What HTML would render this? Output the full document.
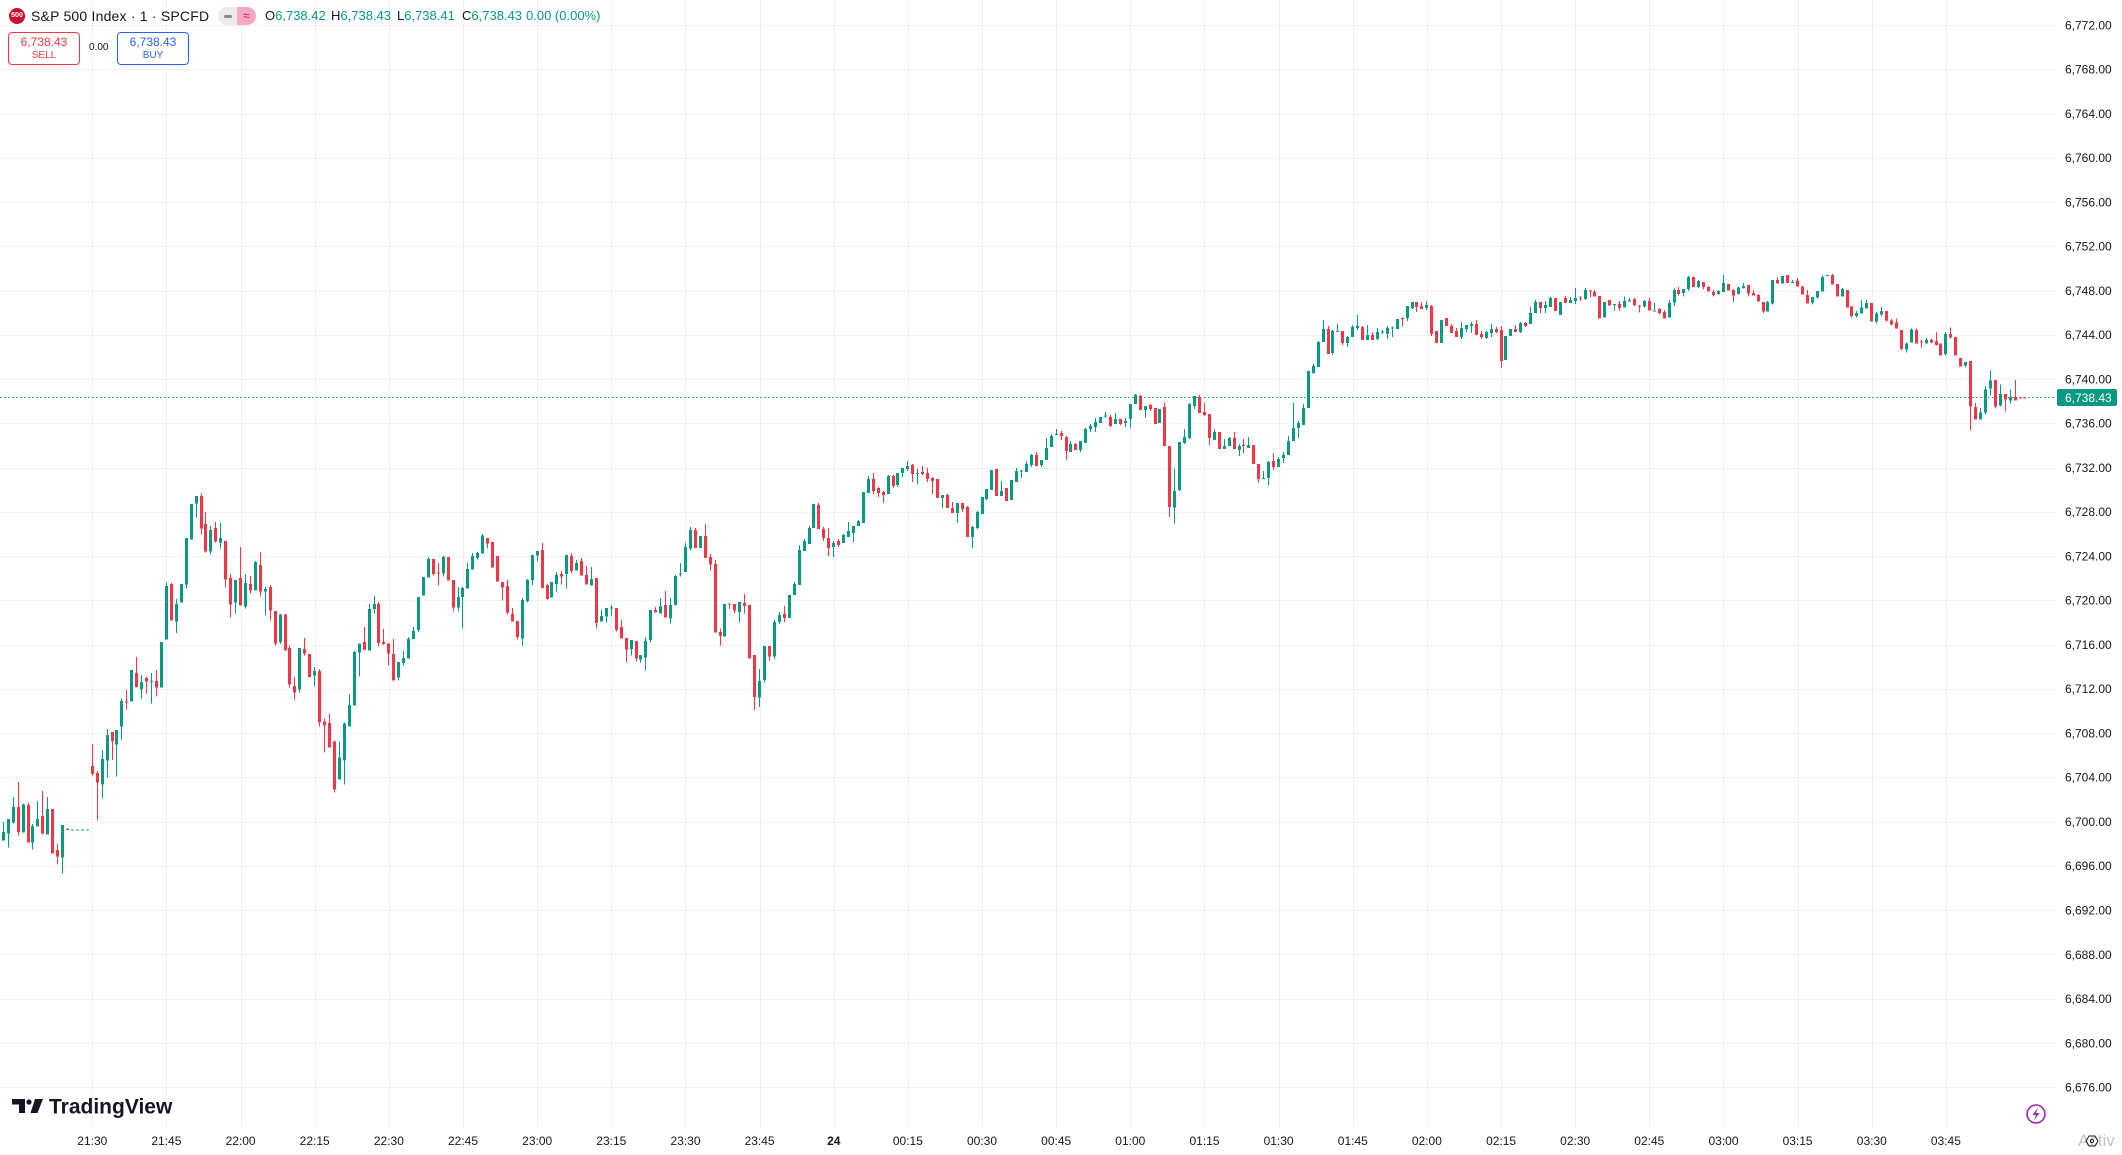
<!DOCTYPE html>
<html>
<head>
<meta charset="utf-8">
<style>
html,body{margin:0;padding:0;background:#fff;}
body{width:2122px;height:1155px;overflow:hidden;position:relative;font-family:"Liberation Sans",Arial,sans-serif;}
#chart{position:absolute;left:0;top:0;}
.hdr{position:absolute;white-space:nowrap;}
.box{position:absolute;box-sizing:border-box;border-radius:4px;background:#fff;text-align:center;font-size:12px;line-height:13px;}
.box .v{display:block;margin-top:3px;}
.box .s{display:block;font-size:10px;line-height:12px;margin-top:1px;}
</style>
</head>
<body>
<svg id="chart" width="2122" height="1155" xmlns="http://www.w3.org/2000/svg" shape-rendering="crispEdges">
<g id="grid"></g>
<line x1="0" y1="397.5" x2="2055" y2="397.5" stroke="#089981" stroke-width="1" stroke-dasharray="1.5 2.5"/>
<g id="candles"></g>
<g font-family="Liberation Sans, Arial, sans-serif" font-size="12" fill="#131722" shape-rendering="auto">
<text x="2065" y="29.3">6,772.00</text>
<text x="2065" y="73.56">6,768.00</text>
<text x="2065" y="117.82">6,764.00</text>
<text x="2065" y="162.08">6,760.00</text>
<text x="2065" y="206.34">6,756.00</text>
<text x="2065" y="250.6">6,752.00</text>
<text x="2065" y="294.86">6,748.00</text>
<text x="2065" y="339.12">6,744.00</text>
<text x="2065" y="383.38">6,740.00</text>
<text x="2065" y="427.64">6,736.00</text>
<text x="2065" y="471.9">6,732.00</text>
<text x="2065" y="516.16">6,728.00</text>
<text x="2065" y="560.42">6,724.00</text>
<text x="2065" y="604.68">6,720.00</text>
<text x="2065" y="648.94">6,716.00</text>
<text x="2065" y="693.2">6,712.00</text>
<text x="2065" y="737.46">6,708.00</text>
<text x="2065" y="781.72">6,704.00</text>
<text x="2065" y="825.98">6,700.00</text>
<text x="2065" y="870.24">6,696.00</text>
<text x="2065" y="914.5">6,692.00</text>
<text x="2065" y="958.76">6,688.00</text>
<text x="2065" y="1003.02">6,684.00</text>
<text x="2065" y="1047.28">6,680.00</text>
<text x="2065" y="1091.54">6,676.00</text>
</g>
<rect x="2057" y="389" width="60" height="17" rx="2" fill="#089981"/>
<text x="2065" y="401.8" font-family="Liberation Sans, Arial, sans-serif" font-size="12" fill="#ffffff" shape-rendering="auto">6,738.43</text>
<g font-family="Liberation Sans, Arial, sans-serif" font-size="12" fill="#131722" text-anchor="middle" shape-rendering="auto">
<text x="92.3" y="1145">21:30</text>
<text x="166.4" y="1145">21:45</text>
<text x="240.6" y="1145">22:00</text>
<text x="314.7" y="1145">22:15</text>
<text x="388.9" y="1145">22:30</text>
<text x="463.0" y="1145">22:45</text>
<text x="537.2" y="1145">23:00</text>
<text x="611.3" y="1145">23:15</text>
<text x="685.5" y="1145">23:30</text>
<text x="759.6" y="1145">23:45</text>
<text x="833.8" y="1145" font-weight="bold">24</text>
<text x="907.9" y="1145">00:15</text>
<text x="982.0" y="1145">00:30</text>
<text x="1056.2" y="1145">00:45</text>
<text x="1130.3" y="1145">01:00</text>
<text x="1204.5" y="1145">01:15</text>
<text x="1278.6" y="1145">01:30</text>
<text x="1352.8" y="1145">01:45</text>
<text x="1426.9" y="1145">02:00</text>
<text x="1501.1" y="1145">02:15</text>
<text x="1575.2" y="1145">02:30</text>
<text x="1649.3" y="1145">02:45</text>
<text x="1723.5" y="1145">03:00</text>
<text x="1797.6" y="1145">03:15</text>
<text x="1871.8" y="1145">03:30</text>
<text x="1945.9" y="1145">03:45</text>
</g>
<!-- TradingView logo -->
<g shape-rendering="auto">
<path d="M12 1099 H25 V1113 H19 V1104.5 H12 Z" fill="#131722"/>
<circle cx="29" cy="1102" r="2.6" fill="#131722"/>
<path d="M35 1099 H43 L37.5 1113 H30.5 Z" fill="#131722"/>
<text x="49" y="1113.5" font-family="Liberation Sans, Arial, sans-serif" font-size="21" font-weight="bold" fill="#131722">TradingView</text>
</g>
<!-- lightning -->
<g shape-rendering="auto">
<circle cx="2036" cy="1114" r="9" fill="none" stroke="#9c27b0" stroke-width="1.6"/>
<path d="M2038 1107.5 L2032.5 1115 H2036 L2034 1120.5 L2039.5 1113 H2036 Z" fill="#9c27b0"/>
</g>
<text x="2078" y="1146" font-family="Liberation Sans, Arial, sans-serif" font-size="17" fill="#c4c4c4" shape-rendering="auto">Activ</text>
<g shape-rendering="auto"><path d="M2086 1141 L2089 1136 H2095 L2098 1141 L2095 1146 H2089 Z" fill="none" stroke="#131722" stroke-width="1"/><circle cx="2092" cy="1141" r="1.6" fill="none" stroke="#131722" stroke-width="1"/></g>
</svg>

<!-- Header -->
<div class="hdr" style="left:9px;top:8px;width:16px;height:16px;border-radius:50%;background:#c8102e;color:#fff;font-size:7px;font-weight:bold;line-height:16px;text-align:center;">500</div>
<div class="hdr" style="left:31px;top:7px;font-size:14px;line-height:18px;color:#131722;letter-spacing:0.2px;">S&amp;P 500 Index · 1 · SPCFD</div>
<div class="hdr" style="left:218px;top:7px;width:38px;height:18px;border-radius:9px;overflow:hidden;">
  <div style="position:absolute;left:0;top:0;width:19px;height:18px;background:#ebebeb;"></div>
  <div style="position:absolute;left:6px;top:7.5px;width:8px;height:3px;border-radius:2px;background:#8a8a8a;"></div>
  <div style="position:absolute;left:19px;top:0;width:19px;height:18px;background:#f5a8c4;color:#d81b60;font-size:13px;line-height:18px;text-align:center;">≈</div>
</div>
<div class="hdr" style="left:265px;top:8px;font-size:13px;line-height:16px;color:#131722;">O<span style="color:#089981">6,738.42</span></div>
<div class="hdr" style="left:331px;top:8px;font-size:13px;line-height:16px;color:#131722;">H<span style="color:#089981">6,738.43</span></div>
<div class="hdr" style="left:397px;top:8px;font-size:13px;line-height:16px;color:#131722;">L<span style="color:#089981">6,738.41</span></div>
<div class="hdr" style="left:462px;top:8px;font-size:13px;line-height:16px;color:#131722;">C<span style="color:#089981">6,738.43</span></div>
<div class="hdr" style="left:526px;top:8px;font-size:13px;line-height:16px;color:#089981;">0.00 (0.00%)</div>

<div class="box" style="left:8px;top:32px;width:72px;height:33px;border:1px solid #f23645;color:#f23645;"><span class="v">6,738.43</span><span class="s">SELL</span></div>
<div class="hdr" style="left:89px;top:42px;font-size:10px;line-height:12px;color:#131722;">0.00</div>
<div class="box" style="left:117px;top:32px;width:72px;height:33px;border:1px solid #2962ff;color:#2962ff;"><span class="v">6,738.43</span><span class="s">BUY</span></div>

<script>
(function(){
var NS="http://www.w3.org/2000/svg";
var grid=document.getElementById("grid");
function R(g,x,y,w,h,f){var r=document.createElementNS(NS,"rect");r.setAttribute("x",x);r.setAttribute("y",y);r.setAttribute("width",w);r.setAttribute("height",h);r.setAttribute("fill",f);g.appendChild(r);}
for(var j=0;j<25;j++){R(grid,0,Math.round(25+j*44.26),2055,1,"#eff1f4");}
for(var k=0;k<26;k++){R(grid,Math.round(92.3+k*74.145),0,1,1127,"#eff1f4");}

var segs=[
[470,"0G1086,1112,1056,1112;1G1047,1091,1047,1133;2G1011,1057,981,1060;3R1011,1086,936,1097;4G1004,1088,1001,1088;5R1005,1118,998,1118;6G1068,1118,1062,1139;7G1047,1070,993,1070;8R1038,1091,963,1094;9G1017,1094,981,1094;10R1017,1151,1017,1151;11R1140,1160,1122,1184;12G1065,1163,1065,1211;13R1077,1079,1074,1080;14G1078,1078,1078,1078;15G1078,1078,1078,1078;16G1078,1078,1078,1078;17G1078,1078,1078,1078;18R888,912,822,917;19R909,938,903,1052;20G867,944,840,986;21G795,872,777,923;22R786,815,786,870;23G780,824,780,920;24G693,770,685,809;25R695,698,660,719;26G600,695,600,695;27R609,651,561,653;28G636,659,615,687;29R624,635,620,671;30G633,635,609,701;31R633,653,600,680;32G516,653,516,653;33G348,509,338,509;34R342,452,339,452;35G402,455,387,489;36G342,398,342,398;37G204,344,204,356;38G102,209,102,209;39G78,101,78,143;40R78,176,69,194;41R162,245,126,248;42G180,245,168,254;43R174,215,156,218;44G204,218,159,236;45R213,329,213,353;46R324,404,312,443;47G330,398,330,431;48R324,407,231,407;49G339,410,312,416;50R342,362,318,371;51G276,362,273,362;52R285,365,246,380;53G357,365,351,437;54R351,422,345,452;55R423,521,423,527;56G434,516,432,522;57R434,542,432,542;58R534,644,527,653;59R648,668,621,689;60G534,659,534,668;61R537,551,504,557;62R552,621,552,623;63G603,617,591,650;64R603,758,597,769;65R755,767,746,848;66R759,833,731,833;67R815,959,812,968;68G863,929,815,929;69G761,872,758,944;70G705,770,674,770"],
[520,"71G396,557,393,557;72G370,398,370,470;73R366,390,321,390;74G267,392,252,392;75G252,267,228,281;76R252,369,246,380;77R366,372,327,375;78R370,401,370,437;79R402,482,357,482;80G426,473,426,482;81G414,429,393,437;82G357,416,351,416;83G333,357,321,357;84G231,330,231,336;85G171,227,171,227;86G117,173,111,173;87R117,162,117,167;88R158,160,129,197;89G111,161,108,170;90R111,182,111,182;91R180,263,180,275;92G231,263,201,275;93G204,231,201,326;94G147,206,129,206;95G108,149,99,149;96G99,114,96,119;97G47,101,42,101;98R54,71,54,86;99R66,143,66,143;100R108,185,108,185;101R186,203,186,242;102R198,278,180,284;103R282,305,264,305;104R303,351,303,359;105G240,356,234,377;106G180,243,177,248;107G105,180,105,195;108G93,107,93,125;109R90,204,69,206;110R195,237,192,239;111G186,233,186,233;112G165,192,156,215;113R162,170,153,194;114G105,162,105,206;115R108,153,99,159;116G129,152,120,152;117R123,167,114,167;118R165,194,138,194;119G177,197,141,197;120R174,309,174,326;121G288,305,269,305;122G264,290,264,308;123G263,265,255,290;124R264,330,264,335;125R321,356,300,356;126R354,389,354,428;127G360,387,360,407;128R363,416,363,425;129G405,419,405,428;130G363,413,351,452;131G270,360,270,368;132R270,278,261,278;133G258,281,234,281;134R255,293,213,293;135G255,296,234,311;136G168,255,165,257;137G161,163,129,170;138G81,156,69,156;139G30,86,21,92;140R30,84,24,84;141G48,84,48,84;142R48,114,12,114;143R111,134,102,152;144R132,338,120,338;145R336,348,326,377;146G252,350,252,350;147R250,252,250,267;148R252,272,252,281;149G246,276,246,308;150R249,258,222,281;151R255,416,255,416;152R405,531,405,570;153G483,533,447,561;154G378,480,378,488"],
[385,"155R783,815,783,828;156G711,815,705,822;157G690,711,681,717;158R687,699,663,711;159G630,699,630,699;160G597,630,591,630;161G495,600,480,600;162G468,498,462,498;163G429,477,423,477;164G357,429,357,429;165R360,432,354,432;166R432,459,426,468;167R459,489,429,513;168G474,486,468,516;169R468,480,462,486;170G450,474,447,474;171G438,456,411,456;172G423,444,423,471;173G408,423,405,423;174G321,414,321,414;175G282,324,273,324;176R282,318,264,327;177R309,324,306,336;178R321,330,318,354;179G273,327,270,327;180R273,303,270,309;181G264,300,264,306;182G249,264,249,276;183G243,252,228,258;184R240,267,237,291;185G264,266,252,297;186R261,267,243,270;187R264,282,249,291;188R279,288,276,327;189R282,339,282,339;190G330,339,330,369;191R330,369,327,369;192R369,384,351,384;193G354,384,354,414;194R354,372,354,381;195R366,456,363,456;196G426,456,423,489;197G381,429,378,432;198G336,387,336,387;199G312,342,312,345;200G255,315,255,315;201R252,333,252,333;202G318,333,288,333;203R309,348,309,348;204G285,345,285,345;205G258,291,249,291;206G257,259,255,279;207G237,261,228,261;208G210,240,207,246;209R210,243,201,243;210G225,240,225,246;211G189,225,159,225;212G153,186,147,186;213G147,149,132,149;214R144,153,138,165;215R156,198,153,225;216G177,201,168,201;217R177,195,174,195;218G168,195,168,201;219G132,174,129,174;220G123,132,117,141;221G111,126,99,141;222G96,114,96,114;223G92,94,81,99;224R96,123,90,126;225G102,117,84,117;226R102,117,102,120;227G108,114,99,126;228G57,102,57,129;229G30,57,27,57;230R33,75,30,75;231G63,75,63,99;232R60,72,57,78;233R69,117,69,117;234G72,114,72,114;235R66,183,54,183;236R183,366,183,396"],
[265,"237G678,728,610,776;238G531,675,531,678;239G516,534,492,537;240G417,519,414,522;241G393,423,393,432;242R396,444,390,444;243R441,450,414,453;244R447,519,447,540;245G501,525,492,525;246R501,552,501,552;247G543,552,522,552;248G519,543,516,543;249R519,552,501,552;250G543,555,537,573;251R540,542,522,564;252G540,549,516,549;253R540,597,540,597;254R597,642,597,654;255G639,641,618,641;256G591,639,588,660;257R588,606,564,615;258G582,606,576,606;259G570,579,561,594;260G528,570,513,570;261G489,528,414,528;262G474,489,468,519;263G429,480,417,480;264G318,429,318,429;265G303,324,297,327;266G231,306,228,306;267G192,231,165,231;268R192,267,183,267;269G198,264,195,270;270G198,200,177,201;271R198,234,198,240;272G216,234,213,246;273G186,216,180,216;274G183,189,150,195;275R186,225,183,225;276G210,225,180,225;277R210,225,201,225;278G201,222,189,225;279G200,202,195,207;280G189,207,183,222;281G187,189,185,216;282G162,192,162,192;283R159,161,158,183;284G123,159,123,168;285G111,129,111,132;286R111,126,111,141;287R123,132,111,132;288G120,129,108,135;289R123,207,120,213;290R198,234,198,234;291G165,234,165,234;292R159,183,159,183;293R183,204,177,204;294R198,216,189,216;295G189,216,171,222;296G180,192,180,201;297G177,183,171,204;298R177,210,165,210;299R207,216,198,222;300G201,219,198,222;301G192,204,177,216;302R192,201,186,204;303R195,288,183,309;304G213,285,213,285;305G192,213,192,213;306R192,201,180,201;307G174,201,171,204;308R174,183,171,186;309G144,177,126,177;310G111,144,105,144;311R111,129,111,144;312G120,129,108,144;313G99,126,96,126;314R99,138,99,138;315G111,150,111,150;316R99,114,93,114;317G105,114,96,114;318G99,108,69,117;319R98,100,93,108;320G75,102,69,105"],
[262,"321R85,87,84,107;322R90,104,84,104;323R102,170,102,170;324G120,167,120,167;325R114,131,114,131;326G126,128,126,146;327R126,138,117,147;328G117,137,104,137;329G115,117,108,120;330R111,131,108,131;331R130,132,129,152;332G117,134,114,137;333R117,146,108,146;334G145,147,123,149;335R141,153,138,158;336R150,170,144,170;337G123,167,114,167;338G84,122,78,132;339R84,96,75,101;340G81,93,81,104;341G45,81,42,87;342R45,75,45,75;343G57,75,54,78;344R60,75,60,83;345R75,89,72,89;346R90,99,84,104;347G87,96,84,98;348G63,90,39,90;349R66,86,66,86;350R84,101,81,120;351G77,96,74,98;352G72,78,63,80;353R69,95,69,104;354R93,101,84,101;355R99,119,96,119;356R120,149,120,153;357G120,149,117,149;358G54,125,54,128;359R54,65,47,65;360G42,65,42,65;361R39,63,39,63;362G60,62,54,62;363R56,74,48,74;364R74,98,72,98;365R99,125,84,125;366G105,122,105,128;367G87,107,87,110;368G45,89,40,89;369G39,41,39,42;370R39,68,36,68;371R66,104,66,104;372G81,104,78,104;373R84,137,84,137;374R134,162,132,167;375G153,162,147,167;376G137,155,114,155;377G123,140,114,140;378R123,179,123,179;379G155,179,150,185;380G147,158,135,162;381R147,176,147,179;382R176,188,171,191;383R182,200,170,200;384R204,261,204,264;385G245,263,242,272;386G203,242,200,242;387R204,245,200,245;388R238,240,233,257;389G234,245,228,245;390R234,242,230,245;391R237,249,210,251;392R245,281,245,281;393G216,276,210,281;394R216,227,197,230;395R225,281,225,281;396R288,314,288,314;397G300,311,300,317;398R297,434,297,506;399R435,473,423,473;400G452,473,438,473;401G383,452,372,458;402G356,380,326,401;403R354,434,354,440;404G396,431,368,434;405R396,413,396,449;406G405,416,383,425;407R405,416,354,416;408R406,406,406,406;409R406,406,406,406"]
];
var cg=document.getElementById("candles");
segs.forEach(function(s){
  var y0=s[0];
  s[1].split(";").forEach(function(e){
    var m=e.match(/^(\d+)([GR])(.*)$/);
    var i=+m[1], col=m[2]=="G"?"#089981":"#f23645";
    var v=m[3].split(",").map(Number);
    var cx=3.3+4.943*i;
    var Y=function(p){return y0+p/3;};
    var wt=Y(v[2]),wb=Y(v[3]);
    R(cg,Math.round(cx-0.5),wt,1,Math.max(1,wb-wt),col);
    var bt=Y(Math.min(v[0],v[1])),bb=Y(Math.max(v[0],v[1]));
    R(cg,Math.round(cx-1.5),bt,3,Math.max(1,bb-bt),col);
  });
});
})();
</script>
</body>
</html>
